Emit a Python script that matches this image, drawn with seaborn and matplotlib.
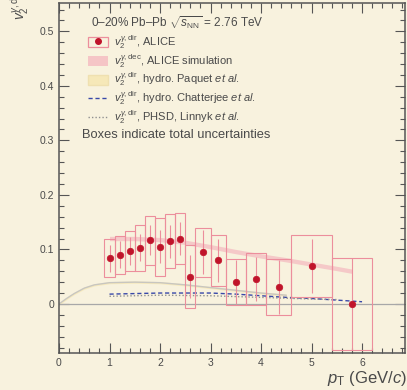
import numpy as np
import pandas as pd
import matplotlib
matplotlib.use("Agg")
import matplotlib.pyplot as plt
import seaborn as sns
from matplotlib.patches import Rectangle, Patch
from matplotlib.lines import Line2D
from matplotlib.ticker import MultipleLocator

# ---------------- data ----------------
pt = [1.0, 1.2, 1.4, 1.6, 1.8, 2.0, 2.2, 2.4, 2.6, 2.85, 3.15, 3.5, 3.9, 4.35, 5.0, 5.8]
v2 = [0.084, 0.090, 0.097, 0.103, 0.117, 0.105, 0.115, 0.120, 0.050, 0.095, 0.080, 0.040, 0.046, 0.031, 0.070, 0.000]
stat = [0.025, 0.025, 0.025, 0.025, 0.027, 0.03, 0.03, 0.03, 0.04, 0.04, 0.04, 0.04, 0.04, 0.05, 0.05, 0.085]
bin_lo = [0.9, 1.1, 1.3, 1.5, 1.7, 1.9, 2.1, 2.3, 2.5, 2.7, 3.0, 3.3, 3.7, 4.1, 4.6, 5.4]
bin_hi = [1.1, 1.3, 1.5, 1.7, 1.9, 2.1, 2.3, 2.5, 2.7, 3.0, 3.3, 3.7, 4.1, 4.6, 5.4, 6.2]
tot = [0.035, 0.035, 0.036, 0.042, 0.045, 0.053, 0.05, 0.047, 0.058, 0.045, 0.047, 0.042, 0.048, 0.052, 0.057, 0.085]

sim_pt = [1.0, 1.5, 2.0, 2.5, 3.0, 3.5, 4.0, 4.5, 5.0, 5.5, 5.8]
sim_v2 = [0.120, 0.120, 0.118, 0.113, 0.105, 0.096, 0.088, 0.081, 0.073, 0.065, 0.060]
sim_err = [0.004, 0.004, 0.004, 0.004, 0.004, 0.004, 0.004, 0.004, 0.004, 0.004, 0.004]

paq_pt = [0.0, 0.15, 0.3, 0.5, 0.7, 1.0, 1.5, 2.0, 2.5, 3.0, 3.5, 4.0, 4.5]
paq_v2 = [0.0, 0.010, 0.019, 0.029, 0.035, 0.039, 0.040, 0.039, 0.035, 0.030, 0.025, 0.020, 0.016]

cha_pt = [1.0, 1.5, 2.0, 2.5, 3.0, 3.5, 4.0, 4.5, 5.0, 5.5, 6.0]
cha_v2 = [0.018, 0.019, 0.020, 0.020, 0.020, 0.018, 0.015, 0.012, 0.010, 0.007, 0.004]

phsd_pt = [1.0, 2.0, 3.0, 4.0, 5.0, 5.5]
phsd_v2 = [0.014, 0.016, 0.015, 0.012, 0.009, 0.008]

# ---------------- style ----------------
sns.set_theme(style="ticks")
bg = "#f8f2de"
txt = "#4a4a4a"
plt.rcParams["font.family"] = ["Liberation Sans", "DejaVu Sans"]
plt.rcParams["mathtext.fontset"] = "custom"
plt.rcParams["mathtext.rm"] = "Liberation Sans"
plt.rcParams["mathtext.it"] = "Liberation Sans:italic"

fig = plt.figure(figsize=(4.07, 3.90), dpi=100, facecolor=bg)
ax = fig.add_axes([59/407, 37/390, 346/407, 350/390])
ax.set_facecolor(bg)

red = "#c0142a"
boxc = "#ec8e9c"

# Paquet hydro band
ax.fill_between(paq_pt, np.array(paq_v2) - 0.002, np.array(paq_v2) + 0.002,
                color="#f6e6b0", alpha=0.7, lw=0, zorder=1)
sns.lineplot(x=paq_pt, y=paq_v2, ax=ax, color="#c8c6c0", lw=1.0, zorder=2)

# ALICE simulation band
ax.fill_between(sim_pt, np.array(sim_v2) - np.array(sim_err), np.array(sim_v2) + np.array(sim_err),
                color="#f3a8b6", alpha=0.55, lw=0, zorder=2)

# zero line
ax.axhline(0, color="#a8a8a8", lw=0.9, zorder=1)

# Chatterjee and PHSD
sns.lineplot(x=cha_pt, y=cha_v2, ax=ax, color="#3848a8", lw=1.0,
             linestyle=(0, (3, 2)), zorder=3)
sns.lineplot(x=phsd_pt, y=phsd_v2, ax=ax, color="#909090", lw=1.0,
             linestyle=(0, (1, 1.5)), zorder=3)

# boxes
for lo, hi, y, e in zip(bin_lo, bin_hi, v2, tot):
    ax.add_patch(Rectangle((lo, y - e), hi - lo, 2 * e, fill=False,
                           edgecolor=boxc, lw=0.8, zorder=4))

# stat errors & points
ax.errorbar(pt, v2, yerr=stat, fmt="none", ecolor=boxc, elinewidth=0.8, capsize=0, zorder=5)
df = pd.DataFrame({"pt": pt, "v2": v2})
sns.scatterplot(data=df, x="pt", y="v2", ax=ax, color=red, s=22, edgecolor=red,
                linewidth=0.5, zorder=6)

ax.set_xlim(0, 6.85)
ax.set_ylim(-0.09, 0.552)
ax.xaxis.set_major_locator(MultipleLocator(1))
ax.xaxis.set_minor_locator(MultipleLocator(0.2))
ax.yaxis.set_major_locator(MultipleLocator(0.1))
ax.yaxis.set_minor_locator(MultipleLocator(0.02))
ax.tick_params(which="both", direction="in", top=True, right=True, colors="#555555",
               labelcolor=txt, labelsize=7.5, width=0.8)
ax.tick_params(which="major", length=7)
ax.tick_params(which="minor", length=3.5)
ax.set_yticks([0, 0.1, 0.2, 0.3, 0.4, 0.5])
ax.set_yticklabels(["0", "0.1", "0.2", "0.3", "0.4", "0.5"])
ax.set_xticks([0, 1, 2, 3, 4, 5, 6])
for s in ax.spines.values():
    s.set_color("#555555")
    s.set_linewidth(1.1)
ax.set_xlabel("")
ax.set_ylabel("")

# legend
handles = [
    (Rectangle((0, 0), 1, 1, fill=False, edgecolor=boxc, lw=0.9),
     Line2D([], [], marker="o", color=red, ls="none", ms=4)),
    Patch(facecolor="#f3a8b6", alpha=0.6, edgecolor="none"),
    Patch(facecolor="#f6e8b8", edgecolor="#efe0b0"),
    Line2D([], [], color="#3848a8", lw=1.0, ls=(0, (3, 2))),
    Line2D([], [], color="#909090", lw=1.0, ls=(0, (1, 1.5))),
]
labels = [
    r"$v_2^{\gamma,\mathrm{dir}}$, ALICE",
    r"$v_2^{\gamma,\mathrm{dec}}$, ALICE simulation",
    r"$v_2^{\gamma,\mathrm{dir}}$, hydro. Paquet $et\ al.$",
    r"$v_2^{\gamma,\mathrm{dir}}$, hydro. Chatterjee $et\ al.$",
    r"$v_2^{\gamma,\mathrm{dir}}$, PHSD, Linnyk $et\ al.$",
]
leg = ax.legend(handles, labels, loc="upper left", bbox_to_anchor=(0.085, 0.915),
                frameon=False, fontsize=8, labelspacing=0.08, handlelength=1.8,
                handleheight=1.0, handletextpad=0.5, borderaxespad=0, borderpad=0,
                labelcolor=txt)

fig.text(91/407, 1 - 23/390, r"0–20% Pb–Pb $\sqrt{s_{\mathrm{NN}}}$ = 2.76 TeV",
         fontsize=8.5, color=txt, va="center", ha="left")
fig.text(82/407, 1 - 135/390, "Boxes indicate total uncertainties",
         fontsize=9.3, color=txt, va="center", ha="left")

# axis titles (cropped like the reference)
fig.text(20/407, 1 - 20/390, r"$v_2^{\gamma,\mathrm{dir}}$", rotation=90,
         fontsize=10, color=txt, ha="center", va="bottom")
fig.text(327/407, 12/390, r"$p_{\mathrm{T}}$ (GeV/$c$)", fontsize=12, color=txt,
         ha="left", va="center")

fig.savefig("out.png", dpi=100, facecolor=bg)
